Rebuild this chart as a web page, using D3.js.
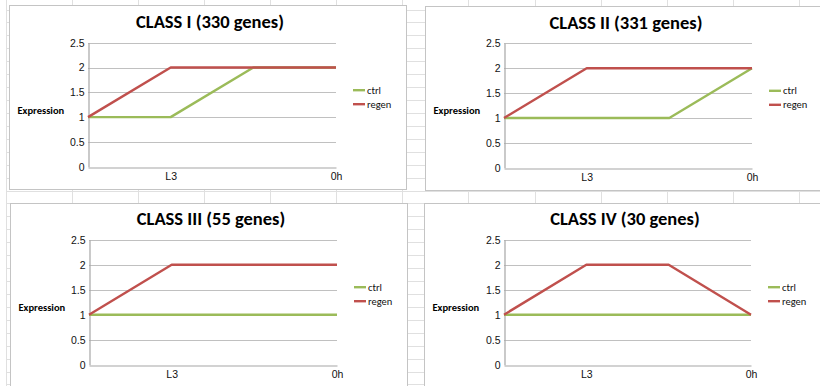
<!DOCTYPE html>
<html>
<head>
<meta charset="utf-8">
<script src="https://cdn.jsdelivr.net/npm/d3@7"></script>
<style>
  html, body { margin: 0; padding: 0; background: #ffffff; }
  svg { display: block; font-family: Carlito, Calibri, Lato, "Open Sans", sans-serif; }
</style>
</head>
<body>
<svg id="sheet" width="820" height="386"></svg>
<script>
// Stages along the time axis; only every other label is printed.
const stages = [0, 1, 2, 3];
const stageLabels = ["", "L3", "", "0h"];

const yTicks = [0, 0.5, 1, 1.5, 2, 2.5];

const classTitles = [
  "CLASS I (330 genes)",
  "CLASS II (331 genes)",
  "CLASS III (55 genes)",
  "CLASS IV (30 genes)"
];

const seriesNames = ["ctrl", "regen"];

const ctrlI   = [1, 1, 2, 2];
const regenI  = [1, 2, 2, 2];
const ctrlII  = [1, 1, 1, 2];
const regenII = [1, 2, 2, 2];
const ctrlIII  = [1, 1, 1, 1];
const regenIII = [1, 2, 2, 2];
const ctrlIV  = [1, 1, 1, 1];
const regenIV = [1, 2, 2, 1];

const seriesColors = { ctrl: "#9bbb59", regen: "#c0504d" };

const svg = d3.select("#sheet");

// Worksheet cell grid behind the charts
const grid = svg.append("g").attr("stroke", "#e0e0e0").attr("stroke-width", 1);
d3.range(0, 13).forEach(k => {
  const x = Math.round(5.7 + 66.1 * k) + 0.5;
  grid.append("line").attr("x1", x).attr("x2", x).attr("y1", 0).attr("y2", 386);
});
d3.range(0, 30).forEach(k => {
  const y = Math.round(9.5 + 12.93 * k) + 0.5;
  grid.append("line").attr("x1", 6).attr("x2", 820).attr("y1", y).attr("y2", y);
});

// Chart objects: frame box and plot rectangle for each class
const layout = [
  { frame: [9.5, 5.5, 397, 184], plot: [88, 42.7, 248, 124] },
  { frame: [425.5, 6.5, 420, 184], plot: [504, 43.3, 248, 124.4] },
  { frame: [10.5, 203.5, 397, 200], plot: [89, 239.7, 248, 125] },
  { frame: [424.5, 203.5, 420, 200], plot: [504, 239.7, 247, 125] }
];

const panelData = [
  { ctrl: ctrlI, regen: regenI },
  { ctrl: ctrlII, regen: regenII },
  { ctrl: ctrlIII, regen: regenIII },
  { ctrl: ctrlIV, regen: regenIV }
];

layout.forEach((L, i) => {
  const [fx, fy, fw, fh] = L.frame;
  const [px, py, pw, ph] = L.plot;

  const g = svg.append("g");
  g.append("rect")
    .attr("x", fx).attr("y", fy).attr("width", fw).attr("height", fh)
    .attr("fill", "#ffffff").attr("stroke", "#c4c4c4").attr("stroke-width", 1);

  const x = d3.scalePoint().domain(stages).range([px, px + pw]);
  const y = d3.scaleLinear().domain([0, 2.5]).range([py + ph, py]);

  // Horizontal gridlines
  g.append("g").selectAll("line").data(yTicks.filter(t => t > 0)).join("line")
    .attr("x1", px).attr("x2", px + pw)
    .attr("y1", d => Math.round(y(d)) + 0.5).attr("y2", d => Math.round(y(d)) + 0.5)
    .attr("stroke", "#c0c0c0").attr("stroke-width", 1.2);

  // Value axis
  const yAxis = d3.axisLeft(y).tickValues(yTicks).tickSize(0).tickPadding(4)
    .tickFormat(d3.format("~g"));
  const ya = g.append("g").attr("transform", `translate(${Math.round(px) + 0.5},0)`).call(yAxis);
  ya.select(".domain").attr("stroke", "#a6a6a6").attr("stroke-width", 1.2);
  ya.selectAll("text").attr("font-size", 10.5).attr("fill", "#111");

  // Stage axis
  const xAxis = d3.axisBottom(x).tickSize(0).tickPadding(5)
    .tickFormat(d => stageLabels[d]);
  const xa = g.append("g").attr("transform", `translate(0,${Math.round(py + ph) + 0.5})`).call(xAxis);
  xa.select(".domain").attr("stroke", "#a6a6a6").attr("stroke-width", 1.2);
  xa.selectAll("text").attr("font-size", 10.5).attr("fill", "#111");

  // Series lines (ctrl first, regen drawn on top)
  const line = d3.line().x((d, j) => x(stages[j])).y(d => y(d));
  seriesNames.forEach(name => {
    g.append("path")
      .datum(panelData[i][name])
      .attr("d", line)
      .attr("fill", "none")
      .attr("stroke", seriesColors[name])
      .attr("stroke-width", 2.4)
      .attr("stroke-linejoin", "round");
  });

  // Title
  g.append("text")
    .attr("x", (fx + (i % 2 === 0 ? fw : 397) / 2) + 2)
    .attr("y", py - 14.5)
    .attr("text-anchor", "middle")
    .attr("font-size", 18.5).attr("font-weight", "bold").attr("fill", "#000")
    .text(classTitles[i]);

  // Value axis title
  g.append("text")
    .attr("x", fx + 8)
    .attr("y", py + 67.5)
    .attr("dy", "0.35em")
    .attr("font-size", 10.5).attr("font-weight", "bold").attr("fill", "#000")
    .text("Expression");

  // Legend
  const lg = g.append("g").attr("transform", `translate(${px + pw + 17},${py + 47.5})`);
  seriesNames.forEach((name, k) => {
    lg.append("line")
      .attr("x1", 0).attr("x2", 12).attr("y1", k * 14).attr("y2", k * 14)
      .attr("stroke", seriesColors[name]).attr("stroke-width", 2.4);
    lg.append("text")
      .attr("x", 14).attr("y", k * 14).attr("dy", "0.35em")
      .attr("font-size", 10.5).attr("fill", "#111")
      .text(name);
  });
});
</script>
</body>
</html>
